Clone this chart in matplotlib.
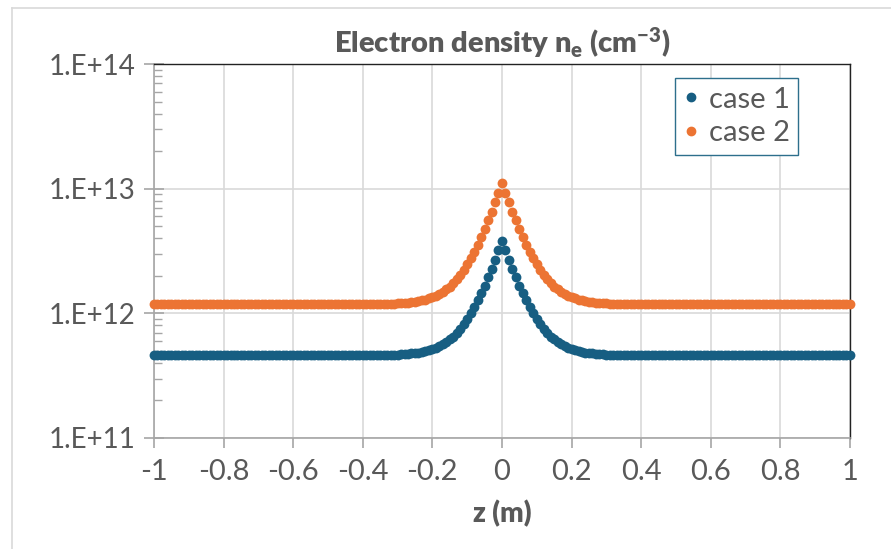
import matplotlib
matplotlib.use("Agg")
import matplotlib.pyplot as plt
import numpy as np
from matplotlib.lines import Line2D
from matplotlib.ticker import FuncFormatter, LogLocator, MultipleLocator

plt.rcParams["font.family"] = ["Lato", "DejaVu Sans"]
plt.rcParams["mathtext.default"] = "regular"
plt.rcParams["axes.unicode_minus"] = False

# z grid, -1 .. 1 m in 0.01 m steps
z = np.linspace(-1, 1, 201)

# electron density in units of 1e11 cm^-3 (z = -1 .. 1)
case1 = [
    4.6, 4.6, 4.6, 4.6, 4.6, 4.6, 4.6, 4.6, 4.6, 4.6,
    4.6, 4.6, 4.6, 4.6, 4.6, 4.6, 4.6, 4.6, 4.6, 4.6,
    4.6, 4.6, 4.6, 4.6, 4.6, 4.6, 4.6, 4.6, 4.6, 4.6,
    4.6, 4.6, 4.6, 4.6, 4.6, 4.6, 4.6, 4.6, 4.6, 4.6,
    4.6, 4.6, 4.6, 4.6, 4.6, 4.6, 4.6, 4.6, 4.6, 4.6,
    4.6, 4.6, 4.6, 4.6, 4.6, 4.6, 4.6, 4.6, 4.6, 4.6,
    4.6,
    4.61, 4.61, 4.62, 4.62, 4.63, 4.63, 4.64, 4.65, 4.66, 4.67,
    4.69, 4.71, 4.73, 4.77, 4.81, 4.85, 4.91, 4.98, 5.06, 5.17,
    5.3, 5.45, 5.65, 5.9, 6.2, 6.5, 7.0, 7.5, 8.2, 9.0,
    10.0, 11.2, 12.7, 14.5, 16.7, 19.5, 22.8, 26.9, 32.0,
    38.2,
    32.0, 26.9, 22.8, 19.5, 16.7, 14.5, 12.7, 11.2, 10.0,
    9.0, 8.2, 7.5, 7.0, 6.5, 6.2, 5.9, 5.65, 5.45, 5.3,
    5.17, 5.06, 4.98, 4.91, 4.85, 4.81, 4.77, 4.73, 4.71, 4.69,
    4.67, 4.66, 4.65, 4.64, 4.63, 4.63, 4.62, 4.62, 4.61, 4.61,
    4.6,
    4.6, 4.6, 4.6, 4.6, 4.6, 4.6, 4.6, 4.6, 4.6, 4.6,
    4.6, 4.6, 4.6, 4.6, 4.6, 4.6, 4.6, 4.6, 4.6, 4.6,
    4.6, 4.6, 4.6, 4.6, 4.6, 4.6, 4.6, 4.6, 4.6, 4.6,
    4.6, 4.6, 4.6, 4.6, 4.6, 4.6, 4.6, 4.6, 4.6, 4.6,
    4.6, 4.6, 4.6, 4.6, 4.6, 4.6, 4.6, 4.6, 4.6, 4.6,
    4.6, 4.6, 4.6, 4.6, 4.6, 4.6, 4.6, 4.6, 4.6, 4.6,
]

case2 = [
    11.8, 11.8, 11.8, 11.8, 11.8, 11.8, 11.8, 11.8, 11.8, 11.8,
    11.8, 11.8, 11.8, 11.8, 11.8, 11.8, 11.8, 11.8, 11.8, 11.8,
    11.8, 11.8, 11.8, 11.8, 11.8, 11.8, 11.8, 11.8, 11.8, 11.8,
    11.8, 11.8, 11.8, 11.8, 11.8, 11.8, 11.8, 11.8, 11.8, 11.8,
    11.8, 11.8, 11.8, 11.8, 11.8, 11.8, 11.8, 11.8, 11.8, 11.8,
    11.8, 11.8, 11.8, 11.8, 11.8, 11.8,
    11.81, 11.81, 11.82, 11.82,
    11.83, 11.84, 11.85, 11.86, 11.87, 11.88, 11.9, 11.92, 11.95, 11.98,
    12.02, 12.07, 12.13, 12.2, 12.3, 12.4, 12.5, 12.7, 12.9, 13.2,
    13.5, 13.9, 14.3, 14.9, 15.6, 16.4, 17.5, 18.8, 20.4, 22.3,
    24.7, 27.6, 31.2, 35.6, 40.9, 47.5, 55.6, 65.5, 77.7, 92.6,
    110.9,
    92.6, 77.7, 65.5, 55.6, 47.5, 40.9, 35.6, 31.2, 27.6, 24.7,
    22.3, 20.4, 18.8, 17.5, 16.4, 15.6, 14.9, 14.3, 13.9, 13.5,
    13.2, 12.9, 12.7, 12.5, 12.4, 12.3, 12.2, 12.13, 12.07, 12.02,
    11.98, 11.95, 11.92, 11.9, 11.88, 11.87, 11.86, 11.85, 11.84, 11.83,
    11.82, 11.82, 11.81, 11.81,
    11.8, 11.8, 11.8, 11.8, 11.8, 11.8,
    11.8, 11.8, 11.8, 11.8, 11.8, 11.8, 11.8, 11.8, 11.8, 11.8,
    11.8, 11.8, 11.8, 11.8, 11.8, 11.8, 11.8, 11.8, 11.8, 11.8,
    11.8, 11.8, 11.8, 11.8, 11.8, 11.8, 11.8, 11.8, 11.8, 11.8,
    11.8, 11.8, 11.8, 11.8, 11.8, 11.8, 11.8, 11.8, 11.8, 11.8,
    11.8, 11.8, 11.8, 11.8, 11.8, 11.8, 11.8, 11.8, 11.8, 11.8,
]

labels = ["case 1", "case 2"]
colors = ["#175e82", "#ec7433"]
grey = "#595959"

fig = plt.figure(figsize=(8.91, 5.49), dpi=100)
ax = fig.add_axes([0.1728, 0.2022, 0.7811, 0.6812])

for vals, lab, col in zip([case1, case2], labels, colors):
    ax.scatter(z, np.array(vals) * 1e11, s=50, color=col, linewidths=0,
               label=lab, zorder=3, clip_on=False)

ax.set_yscale("log")
ax.set_ylim(1e11, 1e14)
ax.set_xlim(-1, 1)
ax.xaxis.set_major_locator(MultipleLocator(0.2))
ax.xaxis.set_major_formatter(FuncFormatter(lambda v, p: "%g" % round(v, 1)))
ax.yaxis.set_major_locator(LogLocator(base=10))
ax.yaxis.set_minor_locator(LogLocator(base=10, subs=np.arange(2, 10)))
ax.yaxis.set_minor_formatter(FuncFormatter(lambda v, p: ""))
ax.yaxis.set_major_formatter(
    FuncFormatter(lambda v, p: "1.E+%d" % round(np.log10(v))))

ax.grid(True, which="major", color="#d9d9d9", linewidth=1.2)
ax.set_axisbelow(True)

for s in ["left", "bottom"]:
    ax.spines[s].set_color("#a6a6a6")
    ax.spines[s].set_linewidth(1.2)
for s in ["right", "top"]:
    ax.spines[s].set_color("#222222")
    ax.spines[s].set_linewidth(1.0)

ax.tick_params(axis="both", which="major", labelsize=21, colors="#a6a6a6",
               labelcolor=grey, length=7, width=1.2, pad=8)
ax.tick_params(axis="y", which="major", direction="inout", length=14,
               pad=6, labelsize=20)
ax.tick_params(axis="y", which="minor", direction="in", length=6,
               width=1.0, colors="#a6a6a6")

ax.set_title("Electron density n$_e$ (cm$^{-3}$)", fontsize=21,
             fontweight="heavy", color=grey, pad=8)
ax.set_xlabel("z (m)", fontsize=20, fontweight="heavy", color=grey,
              labelpad=11)

handles = [Line2D([], [], linestyle="none", marker="o", markersize=6,
                  color=c) for c in colors]
leg = ax.legend(handles, labels, loc="upper right",
                bbox_to_anchor=(0.926, 0.963), fontsize=21, frameon=True,
                fancybox=False, framealpha=1, edgecolor="#2d6f8c",
                handlelength=0.5, handletextpad=0.35, borderpad=0.3,
                labelspacing=0.25, borderaxespad=0)
for t in leg.get_texts():
    t.set_color(grey)

# light frame around the chart area
fig.add_artist(Line2D([12 / 891, 1], [1 - 8 / 549] * 2, color="#d9d9d9",
                      linewidth=1.2))
fig.add_artist(Line2D([12 / 891] * 2, [0, 1 - 8 / 549], color="#d9d9d9",
                      linewidth=1.2))

fig.savefig("out.png", dpi=100)
